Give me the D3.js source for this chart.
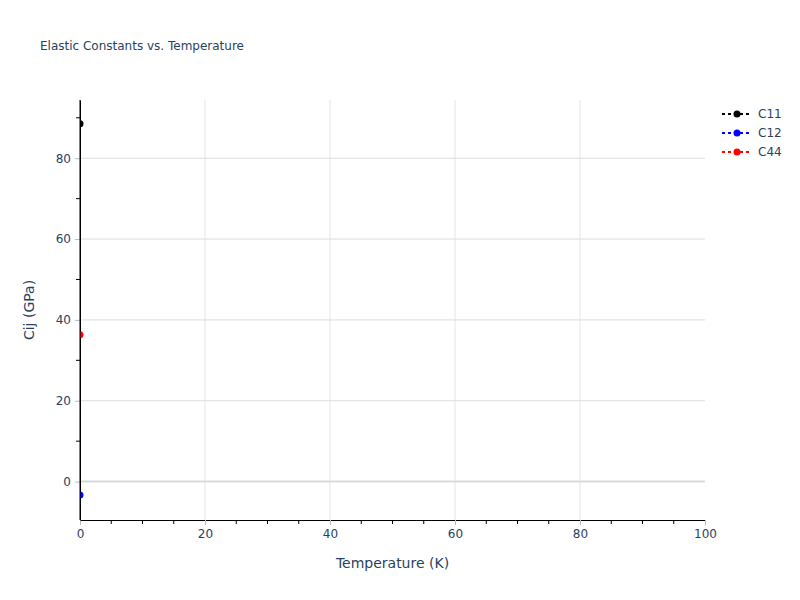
<!DOCTYPE html>
<html>
<head>
<meta charset="utf-8">
<script src="https://cdn.jsdelivr.net/npm/d3@7"></script>
<style>
  body { margin: 0; background: #fff; }
  text { font-family: "DejaVu Sans", verdana, arial, sans-serif; fill: #2a3f5f; }
</style>
</head>
<body>
<svg></svg>
<script>
const seriesNames = ['C11', 'C12', 'C44'];
const seriesColors = ['black', 'blue', 'red'];
const temperatures = [0];
const c11Values = [88.5];
const c12Values = [-3.3];
const c44Values = [36.3];
const xTicks = [0, 20, 40, 60, 80, 100];
const yTicks = [0, 20, 40, 60, 80];

const WIDTH = 800;
const HEIGHT = 600;
const margin = {top: 100, right: 95, bottom: 80, left: 80};

const svg = d3.select('svg')
    .attr('width', WIDTH)
    .attr('height', HEIGHT);

const x = d3.scaleLinear()
    .domain([0, 100])
    .range([margin.left, WIDTH - margin.right]);
const y = d3.scaleLinear()
    .domain([-9.5, 94.4])
    .range([HEIGHT - margin.bottom, margin.top]);

// grid
svg.append('g')
  .selectAll('line')
  .data(xTicks.filter((d) => d > 0 && d < 100))
  .join('line')
    .attr('x1', (d) => x(d)).attr('x2', (d) => x(d))
    .attr('y1', margin.top).attr('y2', HEIGHT - margin.bottom)
    .attr('stroke', '#e5e5e5');
svg.append('g')
  .selectAll('line')
  .data(yTicks.filter((d) => d !== 0))
  .join('line')
    .attr('x1', margin.left).attr('x2', WIDTH - margin.right)
    .attr('y1', (d) => y(d)).attr('y2', (d) => y(d))
    .attr('stroke', '#dcdcdc');
// zero line
svg.append('line')
    .attr('x1', margin.left).attr('x2', WIDTH - margin.right)
    .attr('y1', y(0)).attr('y2', y(0))
    .attr('stroke', '#d9d9d9')
    .attr('stroke-width', 2);

// minor ticks
const xMinor = d3.range(5, 100, 5).filter((d) => d % 20 !== 0);
svg.append('g')
  .selectAll('line')
  .data(xMinor)
  .join('line')
    .attr('x1', (d) => x(d)).attr('x2', (d) => x(d))
    .attr('y1', HEIGHT - margin.bottom).attr('y2', HEIGHT - margin.bottom + 4)
    .attr('stroke', '#000');
const yMinor = [-10, 10, 30, 50, 70, 90].filter((d) => d >= -9.5);
svg.append('g')
  .selectAll('line')
  .data(yMinor)
  .join('line')
    .attr('x1', margin.left - 4).attr('x2', margin.left)
    .attr('y1', (d) => y(d)).attr('y2', (d) => y(d))
    .attr('stroke', '#000');

// axes
const xAxis = svg.append('g')
    .attr('transform', `translate(0,${HEIGHT - margin.bottom})`)
    .call(d3.axisBottom(x).tickValues(xTicks).tickSize(5).tickPadding(4).tickSizeOuter(0));
xAxis.select('.domain').attr('stroke', '#000');
xAxis.selectAll('.tick line').attr('stroke', '#bbb');
xAxis.selectAll('.tick text').attr('font-size', 12).style('fill', '#2a3f5f');

const yAxis = svg.append('g')
    .attr('transform', `translate(${margin.left},0)`)
    .call(d3.axisLeft(y).tickValues(yTicks).tickSize(5).tickPadding(4).tickSizeOuter(0));
yAxis.select('.domain').attr('stroke', '#000');
yAxis.selectAll('.tick line').attr('stroke', '#bbb');
yAxis.selectAll('.tick text').attr('font-size', 12).style('fill', '#2a3f5f');

// data
svg.append('clipPath').attr('id', 'plot-clip')
  .append('rect')
    .attr('x', margin.left).attr('y', margin.top)
    .attr('width', WIDTH - margin.left - margin.right)
    .attr('height', HEIGHT - margin.top - margin.bottom);

const series = [c11Values, c12Values, c44Values].map((vals, i) => ({
  name: seriesNames[i],
  color: seriesColors[i],
  points: vals.map((v, j) => ({t: temperatures[j], v})),
}));

const line = d3.line().x((d) => x(d.t)).y((d) => y(d.v));
const plot = svg.append('g').attr('clip-path', 'url(#plot-clip)');
series.forEach((s) => {
  plot.append('path')
      .attr('d', line(s.points))
      .attr('fill', 'none')
      .attr('stroke', s.color)
      .attr('stroke-width', 2)
      .attr('stroke-dasharray', '2,3');
  plot.selectAll(null)
    .data(s.points)
    .join('circle')
      .attr('cx', (d) => x(d.t))
      .attr('cy', (d) => y(d.v))
      .attr('r', 3.5)
      .attr('fill', s.color);
});

// redraw left axis line on top of markers
svg.append('line')
    .attr('x1', margin.left).attr('x2', margin.left)
    .attr('y1', margin.top).attr('y2', HEIGHT - margin.bottom)
    .attr('stroke', '#000');

// legend
const legend = svg.append('g').attr('transform', 'translate(722,114)');
series.forEach((s, i) => {
  const g = legend.append('g').attr('transform', `translate(0,${i * 19})`);
  g.append('line')
      .attr('x1', 0).attr('x2', 30)
      .attr('stroke', s.color)
      .attr('stroke-width', 2)
      .attr('stroke-dasharray', '3,3');
  g.append('circle').attr('cx', 15).attr('r', 3.5).attr('fill', s.color);
  g.append('text')
      .attr('x', 36).attr('dy', '0.35em')
      .attr('font-size', 12)
      .text(s.name);
});

// titles
svg.append('text')
    .attr('x', 40).attr('y', 50)
    .attr('font-size', 12)
    .text('Elastic Constants vs. Temperature');
svg.append('text')
    .attr('x', (margin.left + WIDTH - margin.right) / 2)
    .attr('y', 568)
    .attr('text-anchor', 'middle')
    .attr('font-size', 14)
    .text('Temperature (K)');
svg.append('text')
    .attr('transform', `translate(34,${(margin.top + HEIGHT - margin.bottom) / 2}) rotate(-90)`)
    .attr('text-anchor', 'middle')
    .attr('font-size', 14)
    .text('Cij (GPa)');
</script>
</body>
</html>
